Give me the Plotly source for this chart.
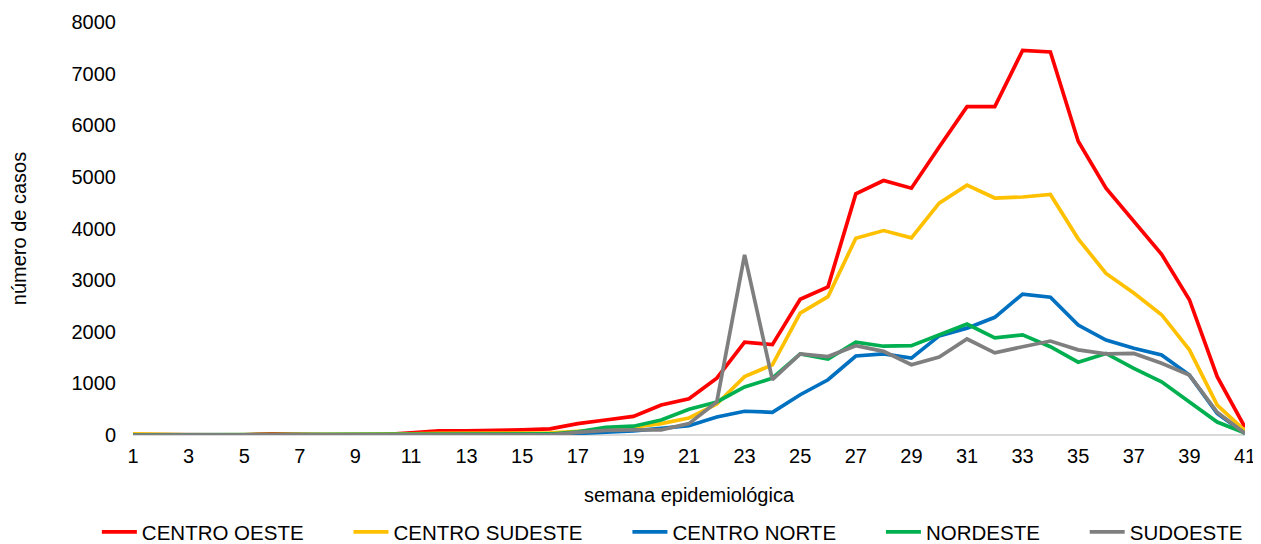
import plotly.graph_objects as go

semanas = list(range(1, 42))

centro_oeste = [10, 5, 5, 5, 5, 20, 5, 5, 5, 10, 40, 80, 80, 85, 100, 120, 220, 290, 360, 580,
                700, 1100, 1800, 1750, 2630, 2870, 4670, 4930, 4780, 5580, 6360, 6360, 7450, 7420, 5690,
                4780, 4150, 3500, 2620, 1130, 150]
centro_sudeste = [20, 5, 5, 5, 5, 5, 5, 5, 5, 10, 20, 30, 30, 30, 30, 40, 70, 100, 150, 220,
                  330, 600, 1130, 1360, 2360, 2680, 3810, 3960, 3820, 4490, 4840, 4590, 4610, 4660, 3800,
                  3130, 2750, 2330, 1650, 580, 80]
centro_norte = [0, 0, 0, 0, 0, 0, 0, 0, 0, 0, 0, 0, 5, 5, 5, 10, 30, 60, 80, 130,
                180, 350, 460, 440, 780, 1070, 1530, 1570, 1490, 1920, 2070, 2280, 2730, 2670, 2130,
                1840, 1680, 1550, 1160, 420, 30]
nordeste = [5, 5, 5, 5, 5, 5, 5, 5, 5, 5, 10, 10, 10, 10, 15, 20, 60, 150, 170, 290,
            500, 640, 930, 1100, 1570, 1470, 1800, 1720, 1730, 1940, 2150, 1880, 1940, 1710, 1410,
            1580, 1290, 1030, 640, 250, 40]
sudoeste = [0, 0, 0, 0, 0, 0, 0, 0, 0, 0, 0, 0, 0, 0, 0, 5, 50, 90, 100, 100,
            220, 640, 3490, 1070, 1570, 1520, 1730, 1620, 1360, 1510, 1860, 1590, 1710, 1820, 1650,
            1570, 1580, 1390, 1160, 440, 30]

series = [
    ("CENTRO OESTE", centro_oeste, "#FF0000"),
    ("CENTRO SUDESTE", centro_sudeste, "#FFC000"),
    ("CENTRO NORTE", centro_norte, "#0070C0"),
    ("NORDESTE", nordeste, "#00B050"),
    ("SUDOESTE", sudoeste, "#7F7F7F"),
]

# trailing no-break spaces widen the gap between legend entries (plotly has no knob for it)
PAD = "\u00a0" * 7

fig = go.Figure()
for i, (nome, vals, cor) in enumerate(series):
    label = nome + (PAD if i < len(series) - 1 else "")
    fig.add_trace(go.Scatter(x=semanas, y=vals, mode="lines", name=label,
                             line=dict(color=cor, width=3.7)))

# page body has an 8px margin, so the figure is a bit smaller than the window
fig.update_layout(
    width=1253, height=536,
    paper_bgcolor="white", plot_bgcolor="white",
    margin=dict(l=125, r=16, t=14, b=109, autoexpand=False),
    font=dict(family="Liberation Sans, Arial, sans-serif", size=20, color="#000000"),
    legend=dict(orientation="h", x=-0.0325, xanchor="left", y=-0.235, yanchor="middle",
                font=dict(size=20.5), itemwidth=35, traceorder="normal"),
    showlegend=True,
)
fig.update_xaxes(range=[1, 41], tickmode="array", tickvals=list(range(1, 42, 2)),
                 showgrid=False, zeroline=False, showline=False, ticks="",
                 ticklabelstandoff=7,
                 title=dict(text="semana epidemiológica", font=dict(size=20), standoff=21))
fig.update_yaxes(range=[0, 8000], dtick=1000, showgrid=False, zeroline=True,
                 zerolinecolor="#D9D9D9", zerolinewidth=1.5, ticks="",
                 ticklabelstandoff=16,
                 title=dict(text="número de casos", font=dict(size=20), standoff=40))

fig.write_html("out.html")
